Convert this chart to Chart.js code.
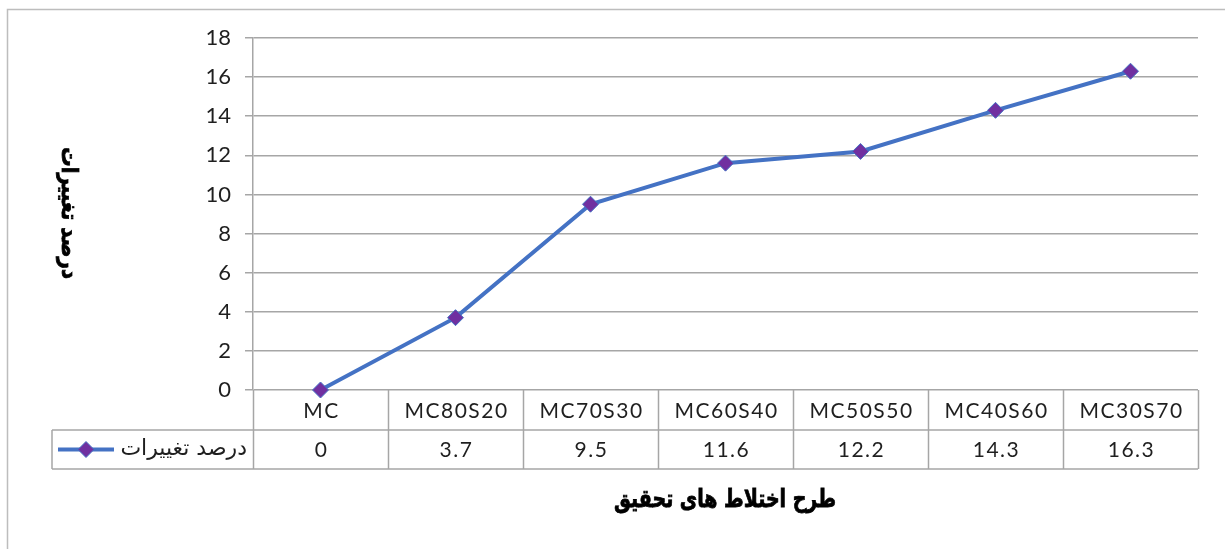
<!DOCTYPE html>
<html>
<head>
<meta charset="utf-8">
<script src="https://cdn.jsdelivr.net/npm/chart.js@4/dist/chart.umd.min.js"></script>
<style>
  html, body { margin: 0; padding: 0; background: #fff; }
  #wrap { width: 1225px; height: 549px; position: relative; }
</style>
</head>
<body>
<div id="wrap"><canvas id="mixChart"></canvas></div>
<script>
// داده‌های نمودار
const categories = ['MC', 'MC80S20', 'MC70S30', 'MC60S40', 'MC50S50', 'MC40S60', 'MC30S70'];
const changePercent = [0, 3.7, 9.5, 11.6, 12.2, 14.3, 16.3];
const seriesName = 'درصد تغییرات';
const yTitle = 'درصد تغییرات';
const xTitle = 'طرح اختلاط های تحقیق';
const yMin = 0, yMax = 18, yStep = 2;

const GRID = '#a6a6a6';
const TEXT = '#1f1f1f';
const NUM_FONT = 'Lato, "Open Sans", sans-serif';
const FA_FONT = '"DejaVu Sans", sans-serif';

// متن پررنگ فشرده تا پهنای مشخص (برای عنوان‌ها)
function fitText(ctx, text, width) {
  const w = ctx.measureText(text).width;
  const k = Math.min(1, width / w);
  ctx.save();
  ctx.scale(k, 1);
  ctx.fillText(text, 0, 0);
  ctx.lineWidth = 0.8;
  ctx.strokeStyle = ctx.fillStyle;
  ctx.strokeText(text, 0, 0);
  ctx.restore();
}

// جدول داده زیر نمودار + عنوان محورها
const dataTablePlugin = {
  id: 'dataTable',
  afterDraw(chart) {
    const ctx = chart.ctx;
    const xs = chart.scales.x;
    const area = chart.chartArea;
    const band = xs.getPixelForValue(1) - xs.getPixelForValue(0);
    const row1 = area.bottom, row2 = area.bottom + 40, row3 = area.bottom + 79;
    const legendLeft = 52;

    ctx.save();
    // قاب بیرونی
    ctx.strokeStyle = '#bdbdbd';
    ctx.lineWidth = 1.5;
    ctx.beginPath();
    ctx.moveTo(7.5, 549); ctx.lineTo(7.5, 9.5); ctx.lineTo(1225, 9.5);
    ctx.stroke();

    // خطوط جدول
    ctx.strokeStyle = GRID;
    ctx.lineWidth = 1.5;
    ctx.beginPath();
    for (let i = 0; i <= categories.length; i++) {
      const x = Math.round(xs.getPixelForValue(i) - band / 2) + 0.5;
      ctx.moveTo(x, row1); ctx.lineTo(x, row3);
    }
    ctx.moveTo(legendLeft, row2); ctx.lineTo(area.right, row2);
    ctx.moveTo(legendLeft, row3); ctx.lineTo(area.right, row3);
    ctx.moveTo(legendLeft, row2); ctx.lineTo(legendLeft, row3);
    ctx.stroke();

    // برچسب‌ها و مقادیر
    ctx.fillStyle = TEXT;
    ctx.font = '21px ' + NUM_FONT;
    ctx.letterSpacing = '1.5px';
    ctx.textAlign = 'center';
    ctx.textBaseline = 'middle';
    categories.forEach((c, i) => {
      const x = xs.getPixelForValue(i) + 1;
      ctx.fillText(c, x, (row1 + row2) / 2 + 1);
      ctx.fillText(String(changePercent[i]), x, (row2 + row3) / 2 + 1);
    });
    ctx.letterSpacing = '0px';

    // کلید سری در جدول
    const ky = (row2 + row3) / 2;
    ctx.strokeStyle = '#4472C4';
    ctx.lineWidth = 4;
    ctx.beginPath();
    ctx.moveTo(58, ky); ctx.lineTo(114, ky);
    ctx.stroke();
    ctx.fillStyle = '#7030A0';
    ctx.beginPath();
    ctx.moveTo(86, ky - 8); ctx.lineTo(94, ky); ctx.lineTo(86, ky + 8); ctx.lineTo(78, ky);
    ctx.closePath();
    ctx.fill();
    ctx.strokeStyle = '#4472C4';
    ctx.lineWidth = 1;
    ctx.stroke();
    ctx.fillStyle = TEXT;
    ctx.font = '22px ' + FA_FONT;
    ctx.textAlign = 'right';
    ctx.direction = 'rtl';
    ctx.fillText(seriesName, 247, ky);

    // عنوان محور افقی
    ctx.font = 'bold 25px ' + FA_FONT;
    ctx.textAlign = 'center';
    ctx.fillStyle = '#000';
    ctx.save();
    ctx.translate(725, 500);
    fitText(ctx, xTitle, 222);
    ctx.restore();

    // عنوان محور عمودی (چرخش ساعتگرد)
    ctx.translate(68, 213);
    ctx.rotate(Math.PI / 2);
    ctx.font = 'bold 23px ' + FA_FONT;
    fitText(ctx, yTitle, 132);
    ctx.restore();
  }
};

new Chart(document.getElementById('mixChart').getContext('2d'), {
  type: 'line',
  data: {
    labels: categories,
    datasets: [{
      label: seriesName,
      data: changePercent,
      borderColor: '#4472C4',
      borderWidth: 4,
      pointStyle: 'rectRot',
      pointRadius: 8,
      pointHoverRadius: 8,
      pointBackgroundColor: '#7030A0',
      pointBorderColor: '#4472C4',
      pointBorderWidth: 1,
      tension: 0,
      clip: false
    }]
  },
  options: {
    responsive: true,
    maintainAspectRatio: false,
    animation: false,
    layout: { padding: { top: 38, right: 27, bottom: 159, left: 0 } },
    plugins: {
      legend: { display: false },
      tooltip: { enabled: false }
    },
    scales: {
      x: {
        display: false,
        offset: true
      },
      y: {
        min: yMin,
        max: yMax,
        afterFit: (scale) => { scale.width = 253; },
        ticks: {
          stepSize: yStep,
          padding: 14,
          color: TEXT,
          font: { family: NUM_FONT, size: 22 }
        },
        grid: {
          color: GRID,
          lineWidth: 1.5,
          tickLength: 8
        },
        border: { color: GRID, width: 1.5 }
      }
    }
  },
  plugins: [dataTablePlugin]
});
</script>
</body>
</html>
